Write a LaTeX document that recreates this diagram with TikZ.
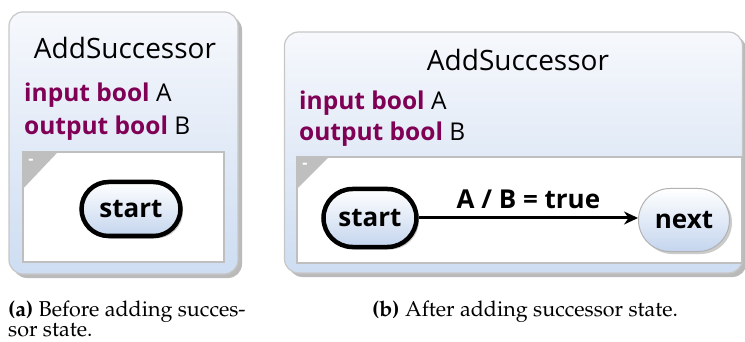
\documentclass[tikz,border=0pt]{standalone}
\usepackage[T1]{fontenc}
\usepackage{fontspec}
\setsansfont{Open Sans}
\usetikzlibrary{shapes.misc,shadows,arrows.meta}
\definecolor{kw}{RGB}{127,0,85}
\definecolor{boxtop}{RGB}{246,248,252}
\definecolor{boxbot}{RGB}{206,221,242}
\definecolor{statebot}{RGB}{196,213,238}
\newcommand{\capfont}{\fontencoding{T1}\fontfamily{ppl}\selectfont}
\begin{document}
\begin{tikzpicture}[x=1pt,y=-1pt,
  outerbox/.style={draw=black!22, line width=1.2pt, rounded corners=14pt,
    top color=boxtop, bottom color=boxbot, inner sep=0pt,
    drop shadow={shadow xshift=4pt, shadow yshift=-4pt, fill=black!45, opacity=.6}},
  region/.style={draw=black!25, line width=1.2pt, fill=white, inner sep=0pt},
  corner/.style={fill=black!25},
  cornermark/.style={font=\sffamily\bfseries\fontsize{16}{18}\selectfont, text=white, inner sep=0pt},
  title/.style={font=\sffamily\fontsize{28}{33}\selectfont, anchor=base, inner sep=0pt},
  decl/.style={font=\sffamily\fontsize{24.5}{29}\selectfont, anchor=base west, inner sep=0pt},
  state/.style={rounded rectangle, draw=black!30, line width=1pt, top color=white,
    bottom color=statebot, inner sep=0pt, font=\sffamily\bfseries\fontsize{26}{30}\selectfont,
    drop shadow={shadow xshift=2.5pt, shadow yshift=-2.5pt, fill=black!40, opacity=.5}},
  initstate/.style={state, draw=black, line width=4.5pt},
  trans/.style={line width=3pt, -{Stealth[length=14pt,width=13pt]}},
  caption/.style={font=\capfont\fontsize{21.5}{20}\selectfont, align=left, anchor=base west, inner sep=0pt}]
\useasboundingbox (0,0) rectangle (745,342);

% (a) state machine with a single state
\node[outerbox, minimum width=229pt, minimum height=262pt] (boxa) at (123.5,143) {};
\node[title] (titlea) at (125,59) {AddSuccessor};
\node[decl] (ina) at (24,102) {\textcolor{kw}{\bfseries input bool} A};
\node[decl] (outa) at (24,135) {\textcolor{kw}{\bfseries output bool} B};
\node[region, minimum width=201pt, minimum height=110pt] (rega) at (123.5,207) {};
\fill[corner] (rega.north west) -- ++(36,0) -- ++(-36,38) -- cycle;
\node[cornermark] (dasha) at (31,162) {-};
\node[initstate, minimum width=99pt, minimum height=54pt] (starta) at (131,209) {start};

% (b) the same machine after adding a successor state
\node[outerbox, minimum width=458pt, minimum height=241pt] (boxb) at (513.5,152.5) {};
\node[title] (titleb) at (518,71) {AddSuccessor};
\node[decl] (inb) at (299,110) {\textcolor{kw}{\bfseries input bool} A};
\node[decl] (outb) at (299,141) {\textcolor{kw}{\bfseries output bool} B};
\node[region, minimum width=445pt, minimum height=106pt] (regb) at (519.5,210) {};
\fill[corner] (regb.north west) -- ++(33,0) -- ++(-33,33) -- cycle;
\node[cornermark] (dashb) at (305,166) {-};
\node[initstate, minimum width=93pt, minimum height=58pt] (startb) at (370,218) {start};
\node[state, minimum width=91pt, minimum height=63pt] (nextb) at (684,220) {next};
\draw[trans] (startb.east) -- (nextb.west |- startb.east)
  node[midway, above=4pt, font=\sffamily\bfseries\fontsize{26}{30}\selectfont] (lab) {A / B = true};

% sub-captions
\node[caption] (capa) at (8,336) {\textbf{(a)} Before adding succes-\\sor state.};
\node[caption] (capb) at (372,316) {\textbf{(b)} After adding successor state.};
\end{tikzpicture}
\end{document}
